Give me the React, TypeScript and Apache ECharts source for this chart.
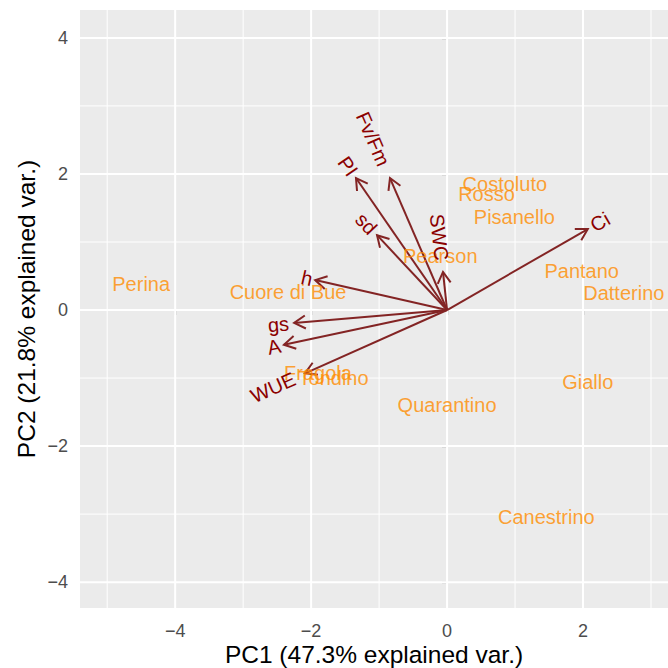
import React, { useEffect, useRef } from "react";
import * as echarts from "echarts";

// Sample scores on the first two principal components
const sampleNames = [
  "Perina", "Cuore di Bue", "Fragola", "Tondino", "Quarantino", "Giallo",
  "Canestrino", "Pantano", "Datterino", "Pisanello", "Costoluto", "Rosso", "Pearson",
];
const pc1Scores = [-4.5, -2.34, -1.9, -1.67, 0.0, 2.07, 1.46, 1.98, 2.6, 0.99, 0.85, 0.58, -0.1];
const pc2Scores = [0.38, 0.26, -0.93, -1.0, -1.4, -1.06, -3.04, 0.57, 0.25, 1.37, 1.85, 1.7, 0.79];

// Variable loadings (arrow ends)
const varNames = ["Fv/Fm", "PI", "sd", "SWC", "h", "gs", "A", "WUE", "Ci"];
const pc1Loadings = [-0.84, -1.34, -1.03, -0.06, -1.94, -2.25, -2.4, -2.09, 2.07];
const pc2Loadings = [1.94, 1.94, 1.1, 0.56, 0.44, -0.19, -0.51, -0.93, 1.19];

// Axis ticks and grid lines
const majorTicksX = [-4, -2, 0, 2];
const majorTicksY = [-4, -2, 0, 2, 4];
const minorTicksX = [-5, -3, -1, 1, 3];
const minorTicksY = [-3, -1, 1, 3];
const xRange = [-5.4, 3.25];
const yRange = [-4.38, 4.41];

const FONT = "Liberation Sans";
const LABEL_SIZE = 20;
const SAMPLE_COLOR = "#FF8C00";
const VAR_TEXT_COLOR = "#8B0000";
const ARROW_COLOR = "#832424";

let measureCtx: CanvasRenderingContext2D | null = null;
function textWidth(t: string): number {
  if (!measureCtx) {
    measureCtx = document.createElement("canvas").getContext("2d");
  }
  if (!measureCtx) return t.length * LABEL_SIZE * 0.55;
  measureCtx.font = `${LABEL_SIZE}px "${FONT}"`;
  return measureCtx.measureText(t).width;
}

const fmt = (v: number) => (v < 0 ? "\u2212" + Math.abs(v) : String(v));

export default function App() {
  const ref = useRef<HTMLDivElement>(null);

  useEffect(() => {
    if (!ref.current) return;
    const chart = echarts.init(ref.current, undefined, { renderer: "svg" });

    const gridData: number[][] = [];
    majorTicksX.forEach((v) => gridData.push([v, 1, 1]));
    minorTicksX.forEach((v) => gridData.push([v, 1, 0]));
    majorTicksY.forEach((v) => gridData.push([v, 0, 1]));
    minorTicksY.forEach((v) => gridData.push([v, 0, 0]));

    const loadingData = varNames.map((n, i) => [pc1Loadings[i], pc2Loadings[i], i]);
    const sampleData = sampleNames.map((n, i) => ({ name: n, value: [pc1Scores[i], pc2Scores[i]] }));

    const tickStyle = { color: "#333333", width: 1.2 };
    const labelStyle = {
      formatter: fmt,
      color: "#4D4D4D",
      fontSize: 18,
      fontFamily: FONT,
    };

    const option: any = {
      animation: false,
      grid: {
        left: 80,
        right: 0,
        top: 10,
        bottom: 60,
        outerBoundsMode: "none",
        show: true,
        backgroundColor: "#EBEBEB",
        borderWidth: 0,
      },
      xAxis: {
        type: "value",
        min: xRange[0],
        max: xRange[1],
        splitLine: { show: false },
        axisLine: { show: false },
        axisTick: { show: true, customValues: majorTicksX, length: 5, lineStyle: tickStyle },
        axisLabel: { ...labelStyle, customValues: majorTicksX, margin: 14 },
        name: "PC1 (47.3% explained var.)",
        nameLocation: "middle",
        nameMoveOverlap: false,
        nameGap: 34,
        nameTextStyle: { color: "#000", fontSize: 24.5, fontFamily: FONT },
      },
      yAxis: {
        type: "value",
        min: yRange[0],
        max: yRange[1],
        splitLine: { show: false },
        axisLine: { show: false },
        axisTick: { show: true, customValues: majorTicksY, length: 5, lineStyle: tickStyle },
        axisLabel: { ...labelStyle, customValues: majorTicksY, margin: 12 },
        name: "PC2 (21.8% explained var.)",
        nameLocation: "middle",
        nameMoveOverlap: false,
        nameGap: 41,
        nameTextStyle: { color: "#000", fontSize: 24.5, fontFamily: FONT },
      },
      series: [
        {
          // panel grid lines
          type: "custom",
          silent: true,
          z: 1,
          clip: true,
          data: gridData,
          renderItem: (params: any, api: any) => {
            const v = api.value(0);
            const isX = api.value(1) === 1;
            const major = api.value(2) === 1;
            const p1 = isX ? api.coord([v, yRange[0]]) : api.coord([xRange[0], v]);
            const p2 = isX ? api.coord([v, yRange[1]]) : api.coord([xRange[1], v]);
            return {
              type: "line",
              shape: { x1: p1[0], y1: p1[1], x2: p2[0], y2: p2[1] },
              style: { stroke: "#FFFFFF", lineWidth: major ? 2 : 1 },
            };
          },
        },
        {
          // loading arrows
          type: "custom",
          silent: true,
          z: 2,
          data: loadingData,
          renderItem: (params: any, api: any) => {
            const o = api.coord([0, 0]);
            const p = api.coord([api.value(0), api.value(1)]);
            const dx = p[0] - o[0];
            const dy = p[1] - o[1];
            const len = Math.hypot(dx, dy);
            const bx = -dx / len;
            const by = -dy / len;
            const L = 13;
            const a = Math.PI / 6;
            const rot = (ang: number) => [
              p[0] + L * (bx * Math.cos(ang) - by * Math.sin(ang)),
              p[1] + L * (bx * Math.sin(ang) + by * Math.cos(ang)),
            ];
            const b1 = rot(a);
            const b2 = rot(-a);
            return {
              type: "group",
              children: [
                {
                  type: "line",
                  shape: { x1: o[0], y1: o[1], x2: p[0], y2: p[1] },
                  style: { stroke: ARROW_COLOR, lineWidth: 2 },
                },
                {
                  type: "polyline",
                  shape: { points: [b1, p, b2] },
                  style: { stroke: ARROW_COLOR, lineWidth: 2, fill: null },
                },
              ],
            };
          },
        },
        {
          // sample labels
          type: "scatter",
          z: 3,
          symbolSize: 0,
          silent: true,
          data: sampleData,
          label: {
            show: true,
            position: "inside",
            formatter: (p: any) => p.name,
            color: SAMPLE_COLOR,
            fontSize: LABEL_SIZE,
            fontFamily: FONT,
          },
        },
        {
          // variable names along their arrows
          type: "custom",
          silent: true,
          z: 4,
          data: loadingData,
          renderItem: (params: any, api: any) => {
            const lx = api.value(0);
            const ly = api.value(1);
            const name = varNames[api.value(2)];
            const o = api.coord([0, 0]);
            const p = api.coord([lx, ly]);
            const dx = p[0] - o[0];
            const dy = p[1] - o[1];
            const len = Math.hypot(dx, dy);
            const ux = dx / len;
            const uy = dy / len;
            const gap = 0.25 * textWidth(name);
            return {
              type: "text",
              x: p[0] + ux * gap,
              y: p[1] + uy * gap,
              rotation: Math.atan(ly / lx),
              style: {
                text: name,
                fill: VAR_TEXT_COLOR,
                fontSize: LABEL_SIZE,
                fontFamily: FONT,
                align: lx < 0 ? "right" : "left",
                verticalAlign: "middle",
              },
            };
          },
        },
      ],
    };

    chart.setOption(option);
    return () => chart.dispose();
  }, []);

  return (
    <div
      ref={ref}
      style={{ position: "fixed", left: 0, top: 0, width: 668, height: 668, background: "#fff" }}
    />
  );
}
